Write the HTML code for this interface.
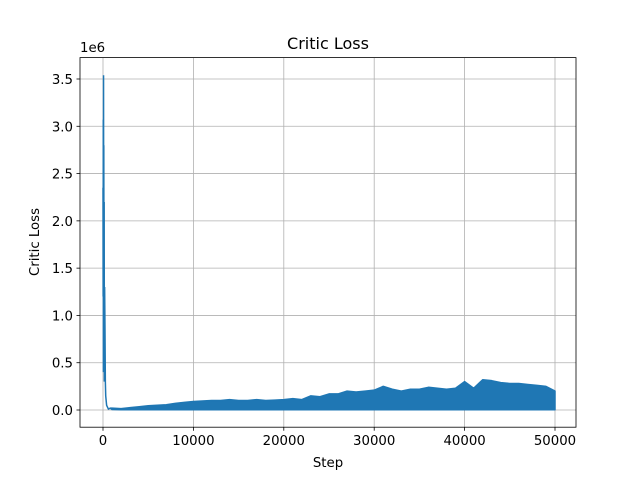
<!DOCTYPE html>
<html><head><meta charset="utf-8"><style>
body{margin:0;background:#fff}
svg text{font-family:"DejaVu Sans","Liberation Sans",sans-serif;fill:#000}
</style></head><body>
<svg id="chart" width="640" height="480" xmlns="http://www.w3.org/2000/svg">
<rect width="640" height="480" fill="#fff"/>
<g id="grid"></g><g id="series"></g><g id="axes"></g>
<text x="328" y="49" font-size="16" text-anchor="middle">Critic Loss</text>
<text x="328" y="467" font-size="13.3" text-anchor="middle">Step</text>
<text x="0" y="0" font-size="13.3" text-anchor="middle" transform="translate(39,242) rotate(-90)">Critic Loss</text>
<text x="80" y="52" font-size="13.3">1e6</text>
</svg>
<script>
const xTicks=[0,10000,20000,30000,40000,50000];
const yTicks=[0,0.5,1.0,1.5,2.0,2.5,3.0,3.5];
const earlySteps=[0,15,30,45,60,75,90,110,130,150,180,220,260,300,400,600,800];
const earlyValues=[2.35,1.2,3.07,0.4,3.54,1.9,2.8,0.9,2.2,0.3,1.3,0.85,0.3,0.15,0.05,0.01,0.02];
const bandSteps=[1000,2000,3000,4000,5000,6000,7000,8000,9000,10000,11000,12000,13000,14000,15000,16000,17000,18000,19000,20000,21000,22000,23000,24000,25000,26000,27000,28000,29000,30000,31000,32000,33000,34000,35000,36000,37000,38000,39000,40000,41000,42000,43000,44000,45000,46000,47000,48000,49000,50000];
const bandMax=[20,15,25,35,45,50,55,70,80,90,95,100,100,110,100,100,110,100,105,110,120,110,150,140,170,170,200,190,200,210,250,220,200,220,220,240,230,220,230,300,230,320,310,290,280,280,270,260,250,200];
const bandMin=[5,3,3,3,3,3,3,3,3,3,3,3,3,3,3,3,3,3,3,3,3,3,3,3,3,3,3,3,3,3,3,3,3,3,3,3,3,3,3,3,3,3,3,3,3,3,3,3,3,3];
const L=80,R=576,T=57.6,B=427.2;
const X=v=>103+v*452/50000;
const Y=v=>410-v*331/3.5;
const NS="http://www.w3.org/2000/svg";
function mk(p,t,a){const e=document.createElementNS(NS,t);for(const k in a)e.setAttribute(k,a[k]);p.appendChild(e);return e;}
const grid=document.getElementById('grid'),axes=document.getElementById('axes'),ser=document.getElementById('series');
xTicks.forEach(t=>{const x=X(t);
const g=mk(grid,'line',{x1:x,x2:x,y1:T,y2:B,stroke:'#b0b0b0','stroke-width':0.8});

mk(axes,'line',{x1:x,x2:x,y1:B,y2:B+3.5,stroke:'#000','stroke-width':0.8});
const tx=mk(axes,'text',{x:x,y:B+18,'font-size':13.3,'text-anchor':'middle'});tx.textContent=t;
});
yTicks.forEach(t=>{const y=Y(t);
const g=mk(grid,'line',{x1:L,x2:R,y1:y,y2:y,stroke:'#b0b0b0','stroke-width':0.8});

mk(axes,'line',{x1:L-3.5,x2:L,y1:y,y2:y,stroke:'#000','stroke-width':0.8});
const tx=mk(axes,'text',{x:L-7,y:y+5,'font-size':13.3,'text-anchor':'end'});tx.textContent=t.toFixed(1);
});
const fr=mk(axes,'rect',{x:L,y:T,width:R-L,height:B-T,fill:'none',stroke:'#000','stroke-width':0.8});

// early spike line
let d=earlySteps.map((s,i)=>(i?'L':'M')+X(s).toFixed(2)+','+Y(earlyValues[i]).toFixed(2)).join('');
const el=mk(ser,'path',{d:d,fill:'none',stroke:'#1f77b4','stroke-width':1.5});

// noisy band
let up=bandSteps.map((s,i)=>X(s).toFixed(2)+','+Y(bandMax[i]/1000).toFixed(2));
let lo=bandSteps.map((s,i)=>X(s).toFixed(2)+','+Y(bandMin[i]/1000).toFixed(2)).reverse();
const band=mk(ser,'polygon',{points:[X(800)+','+Y(0.02)].concat(up,lo).join(' '),fill:'#1f77b4',stroke:'#1f77b4','stroke-width':1.5,'stroke-linejoin':'round'});

</script>
</body></html>
